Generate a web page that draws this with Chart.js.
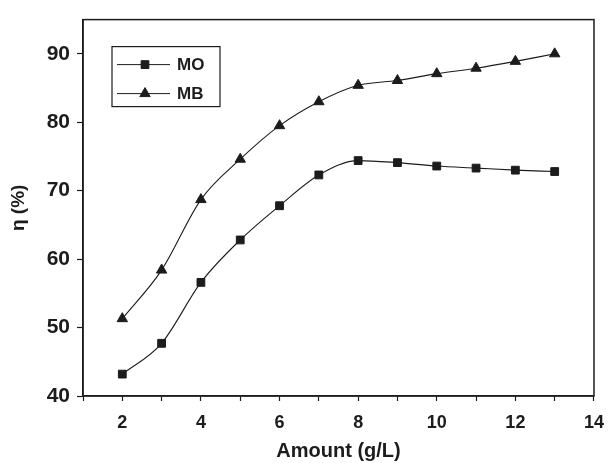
<!DOCTYPE html>
<html>
<head>
<meta charset="utf-8">
<script src="https://cdn.jsdelivr.net/npm/chart.js@4.4.1/dist/chart.umd.min.js"></script>
<style>
  html, body { margin: 0; padding: 0; background: #fff; }
  #wrap { width: 615px; height: 463px; }
</style>
</head>
<body>
<div id="wrap"><canvas id="c" width="615" height="463"></canvas></div>
<script>
const amounts = [2, 3, 4, 5, 6, 7, 8, 9, 10, 11, 12, 13];
const moValues = [43.2, 47.7, 56.6, 62.8, 67.8, 72.3, 74.4, 74.1, 73.6, 73.3, 73.0, 72.8];
const mbValues = [51.3, 58.4, 68.7, 74.6, 79.5, 83.0, 85.4, 86.1, 87.1, 87.9, 88.9, 90.0];
const seriesNames = ['MO', 'MB'];
const xTickValues = [1, 2, 3, 4, 5, 6, 7, 8, 9, 10, 11, 12, 13, 14];
const yTickValues = [40, 50, 60, 70, 80, 90];
const xTitle = 'Amount (g/L)';
const yTitle = 'η (%)';

const INK = '#1c1c1c';

const framePlugin = {
  id: 'frame',
  afterDraw(chart) {
    const { ctx, chartArea: a } = chart;
    ctx.save();
    ctx.strokeStyle = INK;
    ctx.lineWidth = 1.5;
    ctx.strokeRect(a.left, a.top, a.right - a.left, a.bottom - a.top);
    // legend
    const bx = a.left + 29, by = a.top + 27, bw = 108, bh = 60;
    ctx.lineWidth = 1.2;
    ctx.strokeRect(bx, by, bw, bh);
    const rows = [
      { name: seriesNames[0], style: 'rect', y: by + 18 },
      { name: seriesNames[1], style: 'triangle', y: by + 47 }
    ];
    rows.forEach(r => {
      ctx.strokeStyle = INK;
      ctx.lineWidth = 1;
      ctx.beginPath();
      ctx.moveTo(bx + 5, r.y);
      ctx.lineTo(bx + 58, r.y);
      ctx.stroke();
      ctx.fillStyle = INK;
      Chart.helpers.drawPoint(ctx, { pointStyle: r.style, radius: r.style === 'rect' ? 5.5 : 6, rotation: 0, borderWidth: 1 }, bx + 33, r.y);
      ctx.fillStyle = INK;
      ctx.font = 'bold 17px "Liberation Sans", Arial, sans-serif';
      ctx.textBaseline = 'middle';
      ctx.textAlign = 'left';
      ctx.fillText(r.name, bx + 65, r.y + 1);
    });
    ctx.restore();
  }
};

function toPoints(xs, ys) { return xs.map((x, i) => ({ x: x, y: ys[i] })); }

new Chart(document.getElementById('c'), {
  type: 'line',
  data: {
    datasets: [
      {
        label: seriesNames[0],
        data: toPoints(amounts, moValues),
        borderColor: INK, backgroundColor: INK,
        borderWidth: 1.1, cubicInterpolationMode: 'monotone',
        pointStyle: 'rect', pointRadius: 5.5, pointBorderWidth: 1,
        pointBackgroundColor: INK, pointBorderColor: INK
      },
      {
        label: seriesNames[1],
        data: toPoints(amounts, mbValues),
        borderColor: INK, backgroundColor: INK,
        borderWidth: 1.1, cubicInterpolationMode: 'monotone',
        pointStyle: 'triangle', pointRadius: 6, pointBorderWidth: 1,
        pointBackgroundColor: INK, pointBorderColor: INK
      }
    ]
  },
  options: {
    responsive: false,
    animation: false,
    layout: { padding: { top: 13, right: 12, left: 0, bottom: 0 } },
    plugins: { legend: { display: false }, tooltip: { enabled: false } },
    scales: {
      x: {
        type: 'linear', min: 1, max: 14,
        afterBuildTicks: s => { s.ticks = xTickValues.map(v => ({ value: v })); },
        afterFit: s => { s.height = 67; },
        border: { display: true, color: INK, width: 1.5 },
        grid: { display: true, drawOnChartArea: false, drawTicks: true, tickLength: 5, color: INK, tickWidth: 1.2 },
        ticks: {
          color: INK, padding: 11, maxRotation: 0, autoSkip: false,
          font: { family: '"Liberation Sans", Arial, sans-serif', size: 18, weight: 'bold' },
          callback: v => (v % 2 === 0 ? String(v) : '')
        },
        title: {
          display: true, text: xTitle, color: INK,
          font: { family: '"Liberation Sans", Arial, sans-serif', size: 20, weight: 'bold' },
          padding: { top: 0, bottom: 0 }
        }
      },
      y: {
        type: 'linear', min: 40, max: 95,
        afterBuildTicks: s => { s.ticks = yTickValues.map(v => ({ value: v })); },
        afterFit: s => { s.width = 83; },
        border: { display: true, color: INK, width: 1.5 },
        grid: { display: true, drawOnChartArea: false, drawTicks: true, tickLength: 6, color: INK, tickWidth: 1.2 },
        ticks: {
          color: INK, padding: 7,
          font: { family: '"Liberation Sans", Arial, sans-serif', size: 21, weight: 'bold' }
        },
        title: {
          display: true, text: yTitle, color: INK,
          font: { family: '"Liberation Sans", Arial, sans-serif', size: 19, weight: 'bold' },
          padding: { top: 7, bottom: 0 }
        }
      }
    }
  },
  plugins: [framePlugin]
});
</script>
</body>
</html>
